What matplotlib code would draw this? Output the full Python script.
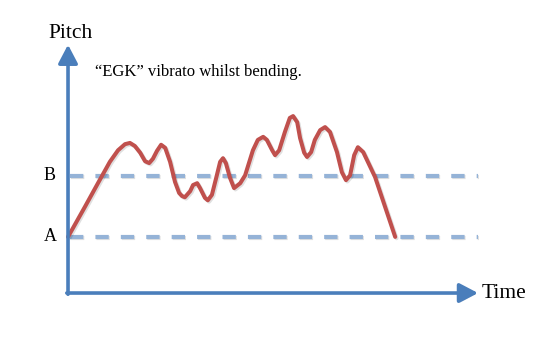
import matplotlib
matplotlib.use("Agg")
import matplotlib.pyplot as plt
import matplotlib.patheffects as pe

# pitch bend with vibrato (time 0-10, pitch units)
time = [0.00, 0.41, 0.73, 1.02, 1.22, 1.39, 1.51, 1.63, 1.76, 1.88, 1.98, 2.07,
        2.17, 2.27, 2.37, 2.49, 2.61, 2.71, 2.78, 2.85, 2.98, 3.05, 3.15, 3.22,
        3.34, 3.41, 3.51, 3.63, 3.71, 3.78, 3.85, 3.95, 4.05, 4.20, 4.32, 4.51,
        4.63, 4.76, 4.85, 4.98, 5.05, 5.15, 5.29, 5.41, 5.49, 5.59, 5.66, 5.76,
        5.83, 5.93, 6.02, 6.15, 6.27, 6.39, 6.56, 6.68, 6.78, 6.88, 6.98, 7.07,
        7.20, 7.37, 7.49, 7.68, 7.98]
pitch = [0.92, 1.41, 1.80, 2.15, 2.34, 2.44, 2.46, 2.41, 2.30, 2.16, 2.13, 2.20,
         2.33, 2.43, 2.38, 2.15, 1.82, 1.64, 1.59, 1.57, 1.67, 1.77, 1.80, 1.72,
         1.56, 1.52, 1.61, 1.93, 2.15, 2.21, 2.13, 1.89, 1.72, 1.80, 1.93, 2.34,
         2.51, 2.56, 2.51, 2.34, 2.26, 2.34, 2.64, 2.87, 2.90, 2.80, 2.54, 2.30,
         2.23, 2.31, 2.51, 2.67, 2.72, 2.64, 2.31, 1.98, 1.85, 1.93, 2.26, 2.39,
         2.31, 2.07, 1.90, 1.52, 0.92]

note_names = ["A", "B"]
note_levels = [0.92, 1.92]

time_max = 10.0
pitch_max = 4.07
caption = "\u201cEGK\u201d vibrato whilst bending."

AXIS_BLUE = "#4a7ebb"
DASH_BLUE = "#95b3d7"
CURVE_RED = "#c0504d"
FONT = "Liberation Serif"

fig = plt.figure(figsize=(5.4, 3.4), dpi=100)
ax = fig.add_axes([0, 0, 1, 1])
ax.set_xlim(-1.659, 11.512)
ax.set_ylim(-0.770, 4.803)
ax.axis("off")

shadow = [pe.SimpleLineShadow(offset=(1.0, -1.0), alpha=0.12), pe.Normal()]

# reference levels
for level in note_levels:
    ax.plot([0.05, time_max], [level, level], color=DASH_BLUE, lw=3.0,
            linestyle=(0, (3.2, 2.9)), solid_capstyle="butt",
            path_effects=shadow, zorder=2)

# the bend
ax.plot(time, pitch, color=CURVE_RED, lw=2.9, solid_joinstyle="round",
        solid_capstyle="round", path_effects=shadow, zorder=3)

# axes arrows
arrow = dict(arrowstyle="-|>,head_length=0.8,head_width=0.42",
             mutation_scale=14, lw=2.6, color=AXIS_BLUE,
             shrinkA=0, shrinkB=0,
             path_effects=[pe.withSimplePatchShadow(offset=(1.0, -1.0), alpha=0.15)])
ax.annotate("", xy=(0, pitch_max), xytext=(0, -0.02), arrowprops=arrow, zorder=4)
ax.annotate("", xy=(time_max, 0), xytext=(-0.03, 0), arrowprops=arrow, zorder=4)

ax.text(0.07, 4.26, "Pitch", family=FONT, fontsize=15.5, ha="center", va="center")
ax.text(10.1, 0.0, "Time", family=FONT, fontsize=15.5, ha="left", va="center")
for name, level in zip(note_names, note_levels):
    ax.text(-0.44, level, name, family=FONT, fontsize=13, ha="center", va="center")
ax.text(0.66, 3.62, caption, family=FONT, fontsize=12, ha="left", va="center")

fig.savefig("out.png", dpi=100)
